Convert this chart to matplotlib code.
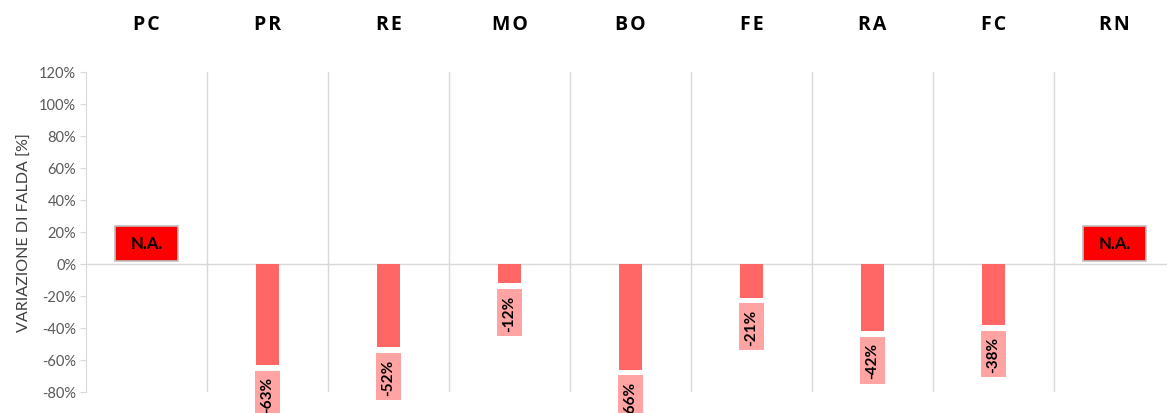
import matplotlib.pyplot as plt
import numpy as np

# province codes and groundwater level change (%), None = not available
province = ["PC", "PR", "RE", "MO", "BO", "FE", "RA", "FC", "RN"]
variazione = [None, -63, -52, -12, -66, -21, -42, -38, None]
na_bottom, na_top = 2, 24  # span of the "N.A." tag, in %
y_ticks = [-80, -60, -40, -20, 0, 20, 40, 60, 80, 100, 120]

grey = "#D9D9D9"
tick_grey = "#595959"

fig = plt.figure(figsize=(11.67, 4.14), dpi=100)
ax = fig.add_axes((86 / 1167, 21 / 414, 1 - 86 / 1167, 320 / 414))

x = np.arange(len(province))
vals = [v if v is not None else 0 for v in variazione]
ax.bar(x, vals, 0.19, color="#FF6666", zorder=3)

for xi, v in zip(x, variazione):
    if v is None:
        ax.bar(xi, na_top - na_bottom, 0.52, bottom=na_bottom, color="#FF0000",
               edgecolor="#BFBFBF", lw=1.2, zorder=3)
        ax.text(xi, (na_top + na_bottom) / 2, "N.A.", ha="center", va="center",
                fontsize=12, fontweight="bold", family="Lato", zorder=4)
    else:
        ax.annotate(f"{v}%", (xi, v), xytext=(0, -8), textcoords="offset points",
                    ha="center", va="top", rotation=90, fontsize=11,
                    fontweight="bold", family="Lato", annotation_clip=False,
                    bbox=dict(boxstyle="square,pad=0.35", fc="#FFA3A3", ec="none"),
                    zorder=4)

# column separators and zero line
for xi in x:
    ax.axvline(xi + 0.5, color=grey, lw=1, zorder=1)
ax.axhline(0, color=grey, lw=1, zorder=2)

# province names on top (slightly spaced letters)
for xi, name in zip(x, province):
    ax.text(xi, 1.15, "\u200a".join(name), transform=ax.get_xaxis_transform(),
            ha="center", va="center", fontsize=14, fontweight="bold",
            family=["Open Sans", "DejaVu Sans"])

ax.set_xlim(-0.5, (1167 - 86) / 121 - 0.5)
ax.set_ylim(-80, 120)
ax.set_yticks(y_ticks)
ax.set_yticklabels([f"{t}%" for t in y_ticks], family="Lato", fontsize=10.5,
                   color=tick_grey)
ax.set_xticks([])
ax.tick_params(axis="y", length=4, color=grey, pad=3)
for s in ["top", "right", "bottom"]:
    ax.spines[s].set_visible(False)
ax.spines["left"].set_color(grey)
ax.set_ylabel("VARIAZIONE DI FALDA [%]", family="Lato", fontsize=11.5,
              color="#404040", labelpad=5)

fig.savefig("out.png", dpi=100)
